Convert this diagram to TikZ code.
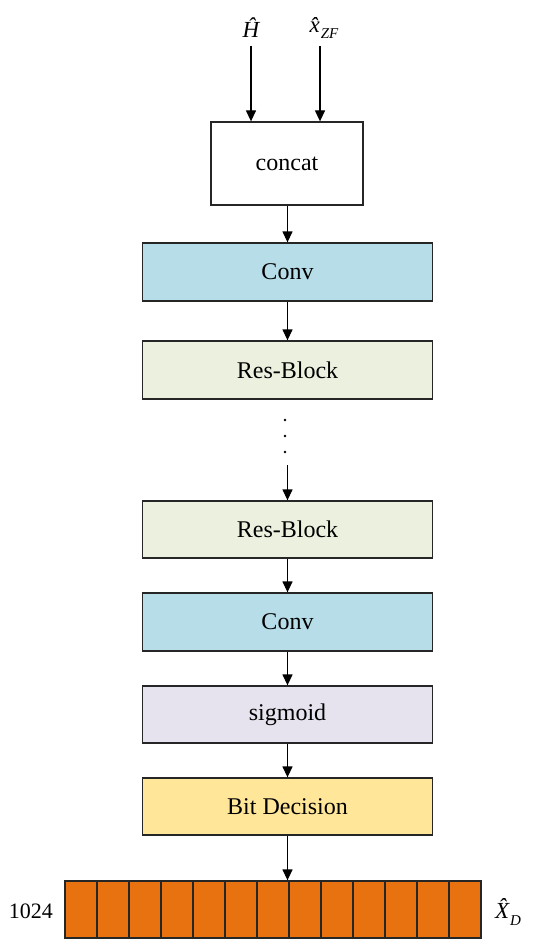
\documentclass[tikz,border=0pt]{standalone}
\usepackage{fontspec}
\setmainfont{Liberation Serif}
\usetikzlibrary{arrows.meta}
\definecolor{convc}{HTML}{B7DDE8}
\definecolor{resc}{HTML}{EBF1DE}
\definecolor{sigc}{HTML}{E6E3EE}
\definecolor{bitc}{HTML}{FFE699}
\definecolor{orc}{HTML}{E8720F}
\tikzset{
  blk/.style={draw=black!85, line width=1.3pt, minimum width=290pt, minimum height=58pt, inner sep=0pt, font=\fontsize{24}{28}\selectfont},
  cell/.style={draw=black!85, fill=orc, line width=1.3pt, minimum width=32pt, minimum height=57pt, inner sep=0pt},
  arr/.style={line width=1.3pt, -{Triangle[length=11pt,width=10pt]}},
  lbl/.style={font=\fontsize{23}{26}\selectfont, inner sep=1pt}
}
\begin{document}
\begin{tikzpicture}[x=1pt,y=-1pt]
\useasboundingbox (0,0) rectangle (550,952);
\node[lbl] (hl) at (251,28) {\itshape\^{H}};
\node[lbl] (xl) at (324,28) {\itshape\^{x}\kern1pt\raisebox{-6pt}{\fontsize{15}{16}\selectfont ZF}};
\node[blk, fill=white, minimum width=152pt, minimum height=83pt] (concat) at (287,163.5) {concat};
\node[blk, fill=convc] (conv1) at (287.5,272) {Conv};
\node[blk, fill=resc] (res1) at (287.5,370) {Res-Block};
\node[blk, fill=resc, minimum height=57pt] (res2) at (287.5,529.5) {Res-Block};
\node[blk, fill=convc] (conv2) at (287.5,622) {Conv};
\node[blk, fill=sigc, minimum height=57pt] (sig) at (287.5,714.5) {sigmoid};
\node[blk, fill=bitc, minimum height=57pt] (bit) at (287.5,806.5) {Bit Decision};
\foreach \i in {1,...,13} {
  \node[cell] (c\i) at ({65+32*(\i-0.5)},909.5) {};
}
\node[lbl, font=\fontsize{22}{24}\selectfont] (n1024) at (31,911) {1024};
\node[lbl] (xd) at (508,912) {\itshape\^{X}\kern1pt\raisebox{-7pt}{\fontsize{15}{16}\selectfont D}};
\coordinate (hs) at (251,46);
\coordinate (xs) at (320,46);
\draw[arr] (hs) -- (hs |- concat.north);
\draw[arr] (xs) -- (xs |- concat.north);
\draw[arr] (concat.south -| conv1.north) -- (conv1.north);
\draw[arr] (conv1) -- (res1);
\foreach \y in {420,436,452} { \fill (285,\y) circle (1.3pt); }
\coordinate (ds) at (287.5,465);
\draw[arr] (ds) -- (res2.north);
\draw[arr] (res2) -- (conv2);
\draw[arr] (conv2) -- (sig);
\draw[arr] (sig) -- (bit);
\draw[arr] (bit.south) -- (bit.south |- c7.north);
\end{tikzpicture}
\end{document}
